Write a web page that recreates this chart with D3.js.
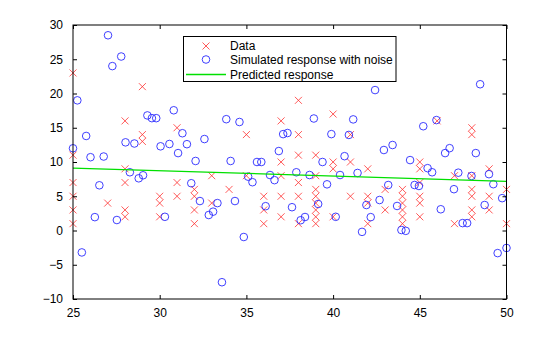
<!DOCTYPE html>
<html>
<head>
<meta charset="utf-8">
<script src="https://cdn.jsdelivr.net/npm/d3@7"></script>
<style>
  html, body { margin: 0; padding: 0; background: #fff; }
  svg { display: block; }
  text { font-family: "Liberation Sans", Arial, Helvetica, sans-serif; font-size: 12px; fill: #000; }
</style>
</head>
<body>
<svg id="chart" width="560" height="337"></svg>
<script>
// ---- Data ----
// Observed data (red crosses)
const dataX = [
  25,25,25,25,25,25,
  27,
  28,28,28,28,28,
  29,29,29,
  30,30,30,
  31,31,31,
  32,32,32,32,
  33,33,
  34,
  35,35,
  36,36,36,
  37,37,37,37,37,
  38,38,38,38,38,38,
  39,39,39,39,39,39,39,39,
  40,40,40,40,
  41,41,41,
  42,42,42,42,
  43,43,
  44,44,44,44,44,44,
  45,45,45,45,45,45,
  46,
  47,47,
  48,48,48,48,48,48,48,
  49,49,49,
  50,50
];
const dataY = [
  23,11,7,5,3,1,
  4,
  16,9,7,3,2,
  21,14,13,
  5,4,2,
  15,7,5,
  6,5,3,1,
  8,4,
  6,
  14,8,
  5,3,1,
  16,10,8,5,2,
  19,14,11,7,5,1,
  11,8,6,5,4,3,2,1,
  17,10,9,2,
  14,10,5,
  9,5,4,1,
  6,3,
  6,5,4,3,2,1,
  10,9,7,5,4,2,
  16,
  8,1,
  15,14,8,6,5,3,2,
  9,5,3,
  6,1
];

// Simulated response with noise (blue circles)
const simX = [
  25.00,25.25,25.51,25.76,26.01,26.26,26.52,26.77,27.02,27.27,
  27.53,27.78,28.03,28.28,28.54,28.79,29.04,29.29,29.55,29.80,
  30.05,30.30,30.56,30.81,31.06,31.31,31.57,31.82,32.07,32.32,
  32.58,32.83,33.08,33.33,33.59,33.84,34.09,34.34,34.60,34.85,
  35.10,35.35,35.61,35.86,36.11,36.36,36.62,36.87,37.12,37.37,
  37.63,37.88,38.13,38.38,38.64,38.89,39.14,39.39,39.65,39.90,
  40.15,40.40,40.66,40.91,41.16,41.41,41.67,41.92,42.17,42.42,
  42.68,42.93,43.18,43.43,43.69,43.94,44.19,44.44,44.70,44.95,
  45.20,45.45,45.71,45.96,46.21,46.46,46.72,46.97,47.22,47.47,
  47.73,47.98,48.23,48.48,48.74,48.99,49.24,49.49,49.75,50.00
];
const simY = [
  12.0,19.0,-3.2,13.8,10.7,1.95,6.6,10.8,28.5,24.0,
  1.53,25.4,12.87,8.5,12.7,7.62,8.06,16.8,16.4,16.4,
  12.29,2.0,12.63,17.55,11.3,14.2,12.6,6.9,10.15,4.3,
  13.35,2.26,2.75,4.0,-7.55,16.25,10.15,4.3,15.84,-0.95,
  7.86,7.05,10.0,10.0,3.55,8.1,7.35,11.6,14.07,14.23,
  3.4,8.5,1.5,1.97,8.1,16.35,3.87,10.0,6.74,14.07,
  2.0,8.1,10.85,13.95,16.22,8.4,-0.2,3.72,1.95,20.5,
  4.45,11.75,6.64,12.48,3.58,0.07,-0.05,10.28,6.64,6.5,
  15.22,9.1,8.5,16.12,3.1,11.3,12.02,6.03,8.44,1.08,
  1.08,7.96,11.3,21.35,3.72,8.22,6.76,-3.3,4.72,-2.55
];

// Predicted response (green line)
const predX = [25, 50];
const predY = [9.12, 7.16];

// Axis ticks
const xTicks = [25, 30, 35, 40, 45, 50];
const yTicks = [-10, -5, 0, 5, 10, 15, 20, 25, 30];

const legendLabels = ["Data", "Simulated response with noise", "Predicted response"];

// ---- Chart ----
const svg = d3.select("#chart");
const L = 73, R = 506.5, T = 25, B = 299;
const x = d3.scaleLinear().domain([25, 50]).range([L, R]);
const y = d3.scaleLinear().domain([-10, 30]).range([B, T]);

const red = "#ff3030", blue = "#2a2aff", green = "#00e000";

svg.append("rect").attr("width", 560).attr("height", 337).attr("fill", "#fff");

// Clip for marks
svg.append("clipPath").attr("id", "clip")
  .append("rect").attr("x", L - 6).attr("y", T - 6).attr("width", R - L + 12).attr("height", B - T + 12);

const marks = svg.append("g").attr("clip-path", "url(#clip)");

// crosses
const cs = 3.5;
marks.append("g").selectAll("path")
  .data(d3.range(dataX.length))
  .join("path")
  .attr("d", i => {
    const cx = x(dataX[i]), cy = y(dataY[i]);
    return `M${cx - cs},${cy - cs}L${cx + cs},${cy + cs}M${cx - cs},${cy + cs}L${cx + cs},${cy - cs}`;
  })
  .attr("stroke", red).attr("stroke-width", 0.8).attr("fill", "none");

// circles
marks.append("g").selectAll("circle")
  .data(d3.range(simX.length))
  .join("circle")
  .attr("cx", i => x(simX[i])).attr("cy", i => y(simY[i])).attr("r", 3.8)
  .attr("stroke", blue).attr("stroke-width", 0.9).attr("fill", "none");

// predicted line
const line = d3.line().x(d => x(d[0])).y(d => y(d[1]));
marks.append("path")
  .datum(predX.map((v, i) => [v, predY[i]]))
  .attr("d", line).attr("stroke", green).attr("stroke-width", 1.3).attr("fill", "none");

// Axes: box with inward ticks on all sides
const axisG = svg.append("g");
const tl = 4;
const xb = d3.axisBottom(x).tickValues(xTicks).tickSize(-tl).tickPadding(9).tickFormat(d3.format("d"));
const xt = d3.axisTop(x).tickValues(xTicks).tickSize(-tl).tickFormat("");
const yl = d3.axisLeft(y).tickValues(yTicks).tickSize(-tl).tickPadding(10).tickFormat(d3.format("d"));
const yr = d3.axisRight(y).tickValues(yTicks).tickSize(-tl).tickFormat("");

const gxb = axisG.append("g").attr("transform", `translate(0,${B})`).call(xb);
const gxt = axisG.append("g").attr("transform", `translate(0,${T})`).call(xt);
const gyl = axisG.append("g").attr("transform", `translate(${L},0)`).call(yl);
const gyr = axisG.append("g").attr("transform", `translate(${R},0)`).call(yr);

[gxb, gxt, gyl, gyr].forEach(g => {
  g.selectAll(".domain").remove();
  g.selectAll("line").attr("stroke", "#000").attr("stroke-width", 1);
  g.selectAll("text").attr("fill", "#000")
    .style("font-family", '"Liberation Sans", Arial, sans-serif').style("font-size", "12px");
});
gxb.selectAll("text").attr("dy", "0.71em");

axisG.append("rect").attr("x", L).attr("y", T).attr("width", R - L).attr("height", B - T)
  .attr("fill", "none").attr("stroke", "#000").attr("stroke-width", 1);

// Legend
const lg = svg.append("g");
lg.append("rect").attr("x", 183.5).attr("y", 36.5).attr("width", 212.5).attr("height", 45)
  .attr("fill", "#fff").attr("stroke", "#000").attr("stroke-width", 1);
const rowsY = [46, 59.5, 74.5];
const mx = 206;
lg.append("path")
  .attr("d", `M${mx - cs},${rowsY[0] - cs}L${mx + cs},${rowsY[0] + cs}M${mx - cs},${rowsY[0] + cs}L${mx + cs},${rowsY[0] - cs}`)
  .attr("stroke", red).attr("stroke-width", 0.8);
lg.append("circle").attr("cx", mx).attr("cy", rowsY[1]).attr("r", 3.8)
  .attr("stroke", blue).attr("stroke-width", 0.9).attr("fill", "none");
lg.append("line").attr("x1", 186).attr("x2", 226).attr("y1", rowsY[2]).attr("y2", rowsY[2])
  .attr("stroke", green).attr("stroke-width", 1.3);
lg.selectAll("text.lbl").data(legendLabels).join("text")
  .attr("class", "lbl")
  .attr("x", 230).attr("y", (d, i) => rowsY[i] + 4.2)
  .text(d => d);
</script>
</body>
</html>
